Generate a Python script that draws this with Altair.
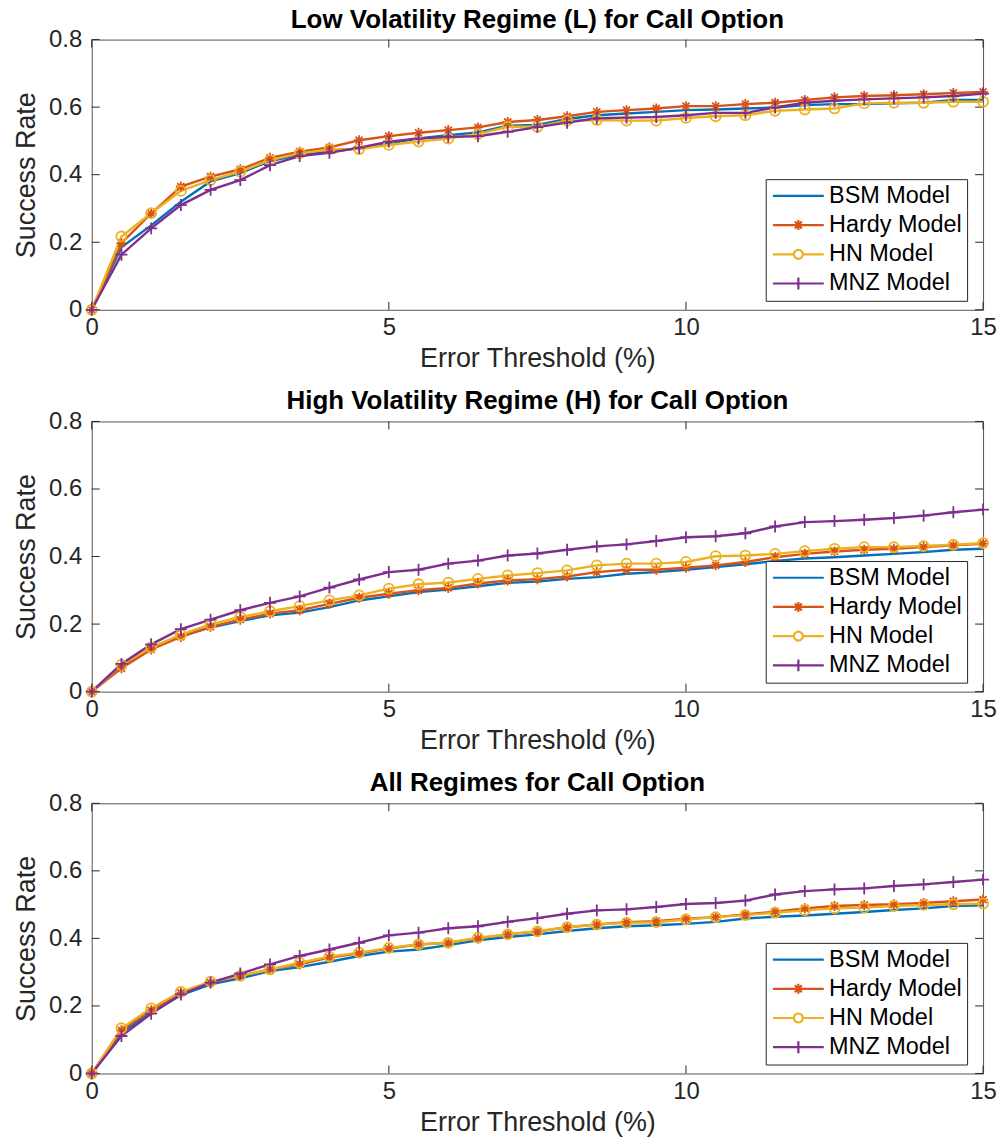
import altair as alt
import pandas as pd

x_vals = [0, 0.5, 1, 1.5, 2, 2.5, 3, 3.5, 4, 4.5, 5, 5.5, 6, 6.5, 7, 7.5,
          8, 8.5, 9, 9.5, 10, 10.5, 11, 11.5, 12, 12.5, 13, 13.5, 14, 14.5, 15]
models = ["BSM Model", "Hardy Model", "HN Model", "MNZ Model"]
colors = ["#0072BD", "#D95319", "#EDB120", "#7E2F8E"]
titles = ["Low Volatility Regime (L) for Call Option",
          "High Volatility Regime (H) for Call Option",
          "All Regimes for Call Option"]
x_ticks = [0, 5, 10, 15]
y_ticks = [0, 0.2, 0.4, 0.6, 0.8]

# Low volatility regime
low_bsm = [0, 0.185, 0.25, 0.32, 0.38, 0.405, 0.44, 0.458, 0.468, 0.478, 0.493, 0.507, 0.517, 0.525, 0.545, 0.547,
           0.565, 0.576, 0.581, 0.586, 0.591, 0.593, 0.596, 0.599, 0.606, 0.609, 0.609, 0.611, 0.613, 0.621, 0.621]
low_hardy = [0, 0.197, 0.285, 0.365, 0.394, 0.416, 0.45, 0.468, 0.481, 0.502, 0.514, 0.524, 0.532, 0.54, 0.556, 0.562,
             0.573, 0.586, 0.591, 0.596, 0.603, 0.603, 0.609, 0.613, 0.621, 0.629, 0.633, 0.635, 0.638, 0.642, 0.645]
low_hn = [0, 0.217, 0.286, 0.352, 0.384, 0.409, 0.443, 0.463, 0.475, 0.476, 0.488, 0.498, 0.507, 0.52, 0.542, 0.542,
          0.56, 0.562, 0.56, 0.56, 0.568, 0.573, 0.576, 0.589, 0.593, 0.596, 0.611, 0.613, 0.613, 0.616, 0.616]
low_mnz = [0, 0.163, 0.241, 0.31, 0.355, 0.384, 0.428, 0.455, 0.465, 0.48, 0.498, 0.507, 0.512, 0.514, 0.527, 0.541,
           0.554, 0.567, 0.569, 0.571, 0.576, 0.583, 0.583, 0.599, 0.613, 0.619, 0.623, 0.626, 0.629, 0.633, 0.64]

# High volatility regime
high_bsm = [0, 0.075, 0.128, 0.164, 0.19, 0.209, 0.226, 0.234, 0.25, 0.27, 0.282, 0.295, 0.302, 0.312, 0.322, 0.326,
            0.334, 0.339, 0.349, 0.354, 0.361, 0.369, 0.377, 0.387, 0.394, 0.398, 0.403, 0.408, 0.413, 0.42, 0.423]
high_hardy = [0, 0.069, 0.125, 0.162, 0.192, 0.213, 0.231, 0.241, 0.26, 0.278, 0.29, 0.3, 0.307, 0.32, 0.329, 0.333,
              0.341, 0.354, 0.361, 0.361, 0.367, 0.374, 0.384, 0.398, 0.408, 0.415, 0.42, 0.423, 0.428, 0.433, 0.438]
high_hn = [0, 0.079, 0.131, 0.169, 0.199, 0.221, 0.238, 0.253, 0.27, 0.285, 0.305, 0.318, 0.323, 0.334, 0.344, 0.351,
           0.359, 0.374, 0.379, 0.379, 0.384, 0.401, 0.403, 0.408, 0.416, 0.423, 0.428, 0.428, 0.431, 0.435, 0.44]
high_mnz = [0, 0.082, 0.14, 0.185, 0.213, 0.241, 0.263, 0.282, 0.308, 0.332, 0.354, 0.361, 0.379, 0.388, 0.403, 0.409,
            0.42, 0.43, 0.436, 0.446, 0.457, 0.46, 0.469, 0.489, 0.502, 0.505, 0.509, 0.514, 0.521, 0.531, 0.539]

# All regimes
all_bsm = [0, 0.121, 0.18, 0.232, 0.264, 0.282, 0.303, 0.315, 0.331, 0.348, 0.361, 0.367, 0.38, 0.394, 0.404, 0.412,
           0.422, 0.43, 0.436, 0.439, 0.443, 0.449, 0.459, 0.464, 0.468, 0.473, 0.478, 0.484, 0.489, 0.496, 0.498]
all_hardy = [0, 0.128, 0.187, 0.239, 0.269, 0.289, 0.308, 0.323, 0.343, 0.356, 0.37, 0.382, 0.387, 0.4, 0.412, 0.42,
             0.433, 0.441, 0.448, 0.451, 0.458, 0.463, 0.471, 0.479, 0.489, 0.496, 0.499, 0.501, 0.505, 0.51, 0.515]
all_hn = [0, 0.134, 0.193, 0.242, 0.272, 0.289, 0.308, 0.328, 0.346, 0.358, 0.372, 0.382, 0.387, 0.402, 0.412, 0.421,
          0.433, 0.441, 0.446, 0.448, 0.456, 0.463, 0.469, 0.476, 0.483, 0.489, 0.491, 0.496, 0.499, 0.501, 0.503]
all_mnz = [0, 0.111, 0.177, 0.234, 0.269, 0.296, 0.323, 0.348, 0.367, 0.387, 0.409, 0.417, 0.43, 0.436, 0.449, 0.46,
           0.473, 0.483, 0.486, 0.493, 0.502, 0.505, 0.512, 0.53, 0.54, 0.545, 0.548, 0.555, 0.56, 0.567, 0.574]

panels = [
    [low_bsm, low_hardy, low_hn, low_mnz],
    [high_bsm, high_hardy, high_hn, high_mnz],
    [all_bsm, all_hardy, all_hn, all_mnz],
]

FONT = "Liberation Sans"
W, H = 894, 271
TICK = 8
AX = "#262626"

# plot markers (unit paths, scaled by size); None = no marker
plot_shapes = [
    None,
    "M-1,0H1M0,-1V1M-0.7,-0.7L0.7,0.7M-0.7,0.7L0.7,-0.7",
    "circle",
    "M-1.2,0H1.2M0,-1.2V1.2",
]
# legend symbols: line sample with marker in the middle
legend_shapes = [
    "M-2.55,0H2.55",
    "M-2.55,0H2.55M-0.5,0H0.5M0,-0.5V0.5M-0.35,-0.35L0.35,0.35M-0.35,0.35L0.35,-0.35",
    "M-2.55,0H-0.45M0.45,0H2.55M0.45,0A0.45,0.45 0 1,1 -0.45,0A0.45,0.45 0 1,1 0.45,0",
    "M-2.55,0H2.55M0,-0.6V0.6",
]


def make_panel(title, series):
    rows = []
    for m, vals in zip(models, series):
        for xv, yv in zip(x_vals, vals):
            rows.append({"x": xv, "y": yv, "model": m})
    df = pd.DataFrame(rows)

    xenc = alt.X("x:Q", scale=alt.Scale(domain=[0, 15], nice=False, zero=False),
                 axis=alt.Axis(values=x_ticks, title="Error Threshold (%)", labelFlush=False,
                               labelPadding=6, titlePadding=6, format="~g"))
    yenc = alt.Y("y:Q", scale=alt.Scale(domain=[0, 0.8], nice=False),
                 axis=alt.Axis(values=y_ticks, title="Success Rate", labelFlush=False,
                               labelPadding=10, titlePadding=8, format="~g"))

    def cscale():
        return alt.Scale(domain=models, range=colors)

    base = alt.Chart(df)
    layers = []
    lines = base.mark_line(strokeWidth=2.4).encode(
        x=xenc, y=yenc,
        color=alt.Color("model:N", scale=cscale(), legend=None),
        order=alt.Order("x:Q"),
    )
    for m, shp in zip(models, plot_shapes):
        if shp is None:
            continue
        layers.append(
            base.transform_filter(alt.datum.model == m).mark_point(
                filled=False, strokeWidth=1.8, size=100, opacity=1, shape=shp
            ).encode(
                x="x:Q", y="y:Q",
                color=alt.Color("model:N", scale=cscale(), legend=None),
            )
        )
    leg_props = dict(
        title=None, orient="none", legendX=676, legendY=140,
        symbolSize=400, symbolStrokeWidth=2.2, symbolOffset=16, labelOffset=19,
        labelFontSize=23.5, labelFont=FONT, labelColor="black",
        rowPadding=4.3, padding=5, fillColor="white", strokeColor=AX)
    leg = base.transform_calculate(hidden="-1").mark_point(
        filled=False, strokeWidth=2, size=400, clip=True, opacity=1
    ).encode(
        x="x:Q", y="hidden:Q",
        color=alt.Color("model:N", scale=cscale(), legend=alt.Legend(**leg_props)),
        shape=alt.Shape("model:N", scale=alt.Scale(domain=models, range=legend_shapes),
                        legend=alt.Legend(**leg_props)),
    )

    xt = pd.DataFrame({"t": x_ticks})
    yt = pd.DataFrame({"t": y_ticks})
    tick_x_bot = alt.Chart(xt).mark_rule(color=AX, strokeWidth=1).encode(
        x=alt.X("t:Q"), y=alt.value(H), y2=alt.value(H - TICK))
    tick_x_top = alt.Chart(xt).mark_rule(color=AX, strokeWidth=1).encode(
        x=alt.X("t:Q"), y=alt.value(0), y2=alt.value(TICK))
    tick_y_left = alt.Chart(yt).mark_rule(color=AX, strokeWidth=1).encode(
        y=alt.Y("t:Q"), x=alt.value(0), x2=alt.value(TICK))
    tick_y_right = alt.Chart(yt).mark_rule(color=AX, strokeWidth=1).encode(
        y=alt.Y("t:Q"), x=alt.value(W), x2=alt.value(W - TICK))

    return alt.layer(
        lines, tick_x_bot, tick_x_top, tick_y_left, tick_y_right, *layers, leg
    ).resolve_scale(color="independent", shape="independent").properties(
        width=W, height=H,
        title=alt.Title(title, anchor="middle", frame="group", offset=-5),
    )


chart = alt.vconcat(
    *[make_panel(t, s) for t, s in zip(titles, panels)], spacing=15
).resolve_scale(color="independent", shape="independent").resolve_legend(
    color="independent", shape="independent"
).properties(
    padding={"left": 12, "top": 4, "right": 5, "bottom": 2},
    background="white",
).configure_view(
    stroke="#555555", strokeWidth=1
).configure_axis(
    grid=False, domain=False, ticks=False,
    labelFont=FONT, labelFontSize=24, labelColor=AX,
    titleFont=FONT, titleFontSize=27, titleFontWeight="normal", titleColor=AX,
).configure_title(
    font=FONT, fontSize=26, fontWeight="bold", color="black"
)

chart.save("out.html", embed_options={"renderer": "svg", "actions": False})
